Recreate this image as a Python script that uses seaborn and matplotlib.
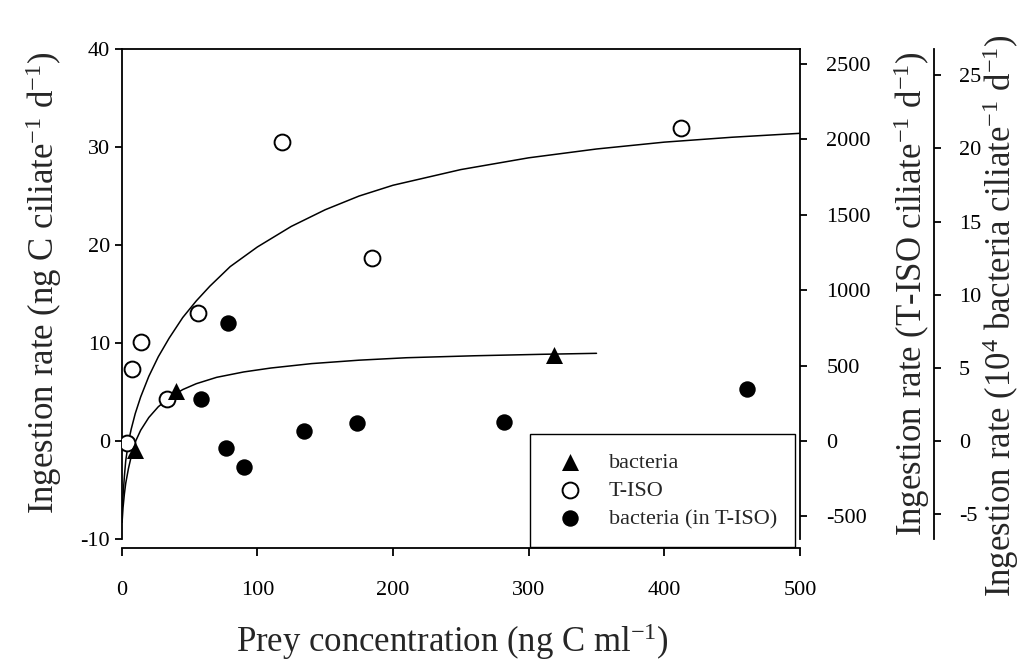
import matplotlib
matplotlib.use("Agg")
import matplotlib.pyplot as plt
import seaborn as sns

# ---------------------------------------------------------
# Data (all in ng C units of the left axis)
# ---------------------------------------------------------
bact_x = [9.5, 40.3, 318.6]
bact_y = [-0.9, 5.1, 8.8]

tiso_x = [4.0, 7.5, 14.0, 33.2, 56.5, 117.9, 184.3, 412.1]
tiso_y = [-0.2, 7.4, 10.1, 4.3, 13.1, 30.5, 18.7, 31.9]

mix_x = [58.5, 76.7, 78.6, 90.4, 134.4, 173.2, 281.8, 461.2]
mix_y = [4.3, -0.7, 12.0, -2.6, 1.0, 1.8, 1.9, 5.3]

# fitted curves
tiso_curve_x = [0, 1, 2, 3, 5, 7, 10, 14, 20, 27, 35, 45, 55, 65, 80, 100,
                125, 150, 175, 200, 250, 300, 350, 400, 450, 500]
tiso_curve_y = [-7.6, -5.6, -3.6, -2.0, -0.1, 1.2, 2.8, 4.5, 6.6, 8.6, 10.5,
                12.6, 14.3, 15.8, 17.8, 19.8, 21.9, 23.6, 25.0, 26.1, 27.7,
                28.9, 29.8, 30.5, 31.0, 31.4]

bact_curve_x = [0.3, 1, 2, 3, 5, 7, 10, 14, 20, 27, 35, 45, 55, 70, 90, 110,
                140, 175, 210, 260, 310, 350]
bact_curve_y = [-8.3, -6.8, -5.4, -4.3, -2.8, -1.6, -0.1, 1.1, 2.4, 3.5, 4.4,
                5.25, 5.85, 6.5, 7.05, 7.45, 7.9, 8.25, 8.5, 8.7, 8.85, 8.95]

# unit conversions for the two right-hand axes
tiso_per_ngC = 65.0       # T-ISO cells per ng C
bact_per_ngC = 1 / 1.493  # 10^4 bacteria per ng C

# ---------------------------------------------------------
# Style
# ---------------------------------------------------------
sns.set_theme(style="ticks")
plt.rcParams["font.family"] = ["Liberation Serif", "DejaVu Serif"]
plt.rcParams["mathtext.fontset"] = "custom"
plt.rcParams["mathtext.rm"] = "Liberation Serif"
plt.rcParams["mathtext.it"] = "Liberation Serif:italic"
plt.rcParams["mathtext.bf"] = "Liberation Serif:bold"
plt.rcParams["axes.unicode_minus"] = False

LW = 1.3
TICK = 16
LABEL = 25

fig = plt.figure(figsize=(10.32, 6.6), dpi=100)
ax = fig.add_axes([0.1179, 0.1833, 0.6573, 0.7424])

# ---------------------------------------------------------
# Curves + points
# ---------------------------------------------------------
sns.lineplot(x=tiso_curve_x, y=tiso_curve_y, ax=ax, color="black",
             linewidth=1.1, sort=False, estimator=None, legend=False, zorder=2)
sns.lineplot(x=bact_curve_x, y=bact_curve_y, ax=ax, color="black",
             linewidth=1.1, sort=False, estimator=None, legend=False, zorder=2)

sns.scatterplot(x=bact_x, y=bact_y, ax=ax, marker="^", s=150, color="black",
                edgecolor="black", linewidth=0, label="bacteria", zorder=4)
sns.scatterplot(x=tiso_x, y=tiso_y, ax=ax, marker="o", s=130, color="white",
                edgecolor="black", linewidth=1.4, label="T-ISO", zorder=3)
sns.scatterplot(x=mix_x, y=mix_y, ax=ax, marker="o", s=140, color="black",
                edgecolor="black", linewidth=0, label="bacteria (in T-ISO)",
                zorder=3)

ax.set_xlim(0, 500)
ax.set_ylim(-10, 40)
ax.set_xticks(range(0, 501, 100))
ax.set_yticks(range(-10, 41, 10))

for side in ["left", "top", "bottom"]:
    ax.spines[side].set_linewidth(LW)
    ax.spines[side].set_color("black")
ax.spines["right"].set_visible(False)
ax.spines["bottom"].set_position(("outward", 6.8))

ax.tick_params(axis="y", direction="out", length=5, width=LW, pad=3.4,
               labelsize=TICK, colors="black")
ax.tick_params(axis="x", direction="out", length=5.5, width=LW, pad=18,
               labelsize=TICK, colors="black")

ax.set_xlabel(r"Prey concentration (ng C ml$^{-1}$)", fontsize=LABEL)
ax.set_ylabel(r"Ingestion rate (ng C ciliate$^{-1}$ d$^{-1}$)", fontsize=LABEL)
ax.xaxis.set_label_coords(0.487, -0.167)
ax.yaxis.set_label_coords(-0.085, 0.524)

# ---------------------------------------------------------
# Right axis 1: T-ISO cells
# ---------------------------------------------------------
ax2 = ax.twinx()
ax2.set_ylim(-10 * tiso_per_ngC, 40 * tiso_per_ngC)
ax2.set_yticks(range(-500, 2501, 500))
for side in ["left", "top", "bottom"]:
    ax2.spines[side].set_visible(False)
ax2.spines["right"].set_linewidth(LW)
ax2.spines["right"].set_color("black")
ax2.tick_params(axis="y", direction="out", length=5, width=LW, pad=14,
                labelsize=TICK, colors="black")
ax2.set_ylabel(r"Ingestion rate (T-ISO ciliate$^{-1}$ d$^{-1}$)", fontsize=LABEL)
ax2.yaxis.set_label_coords(1.135, 0.5)

# ---------------------------------------------------------
# Right axis 2: bacteria (10^4 cells)
# ---------------------------------------------------------
ax3 = ax.twinx()
ax3.set_ylim(-10 * bact_per_ngC, 40 * bact_per_ngC)
ax3.set_yticks(range(-5, 26, 5))
for side in ["left", "top", "bottom"]:
    ax3.spines[side].set_visible(False)
ax3.spines["right"].set_position(("outward", 96.5))
ax3.spines["right"].set_linewidth(LW)
ax3.spines["right"].set_color("black")
ax3.tick_params(axis="y", direction="out", length=5, width=LW, pad=13,
                labelsize=TICK, colors="black")
ax3.set_ylabel(r"Ingestion rate (10$^{4}$ bacteria ciliate$^{-1}$ d$^{-1}$)",
               fontsize=LABEL)
ax3.yaxis.set_label_coords(1.266, 0.455)

# ---------------------------------------------------------
# Legend
# ---------------------------------------------------------
leg = ax.legend(loc="lower right", bbox_to_anchor=(0.9926, -0.0163),
                borderaxespad=0, fontsize=16, frameon=True, fancybox=False,
                framealpha=1, edgecolor="black", borderpad=0.8,
                handlelength=2.0, handletextpad=0.75, labelspacing=0.35,
                scatterpoints=1)
leg.get_frame().set_linewidth(1.0)
leg.set_zorder(10)

fig.savefig("out.png", dpi=100)
